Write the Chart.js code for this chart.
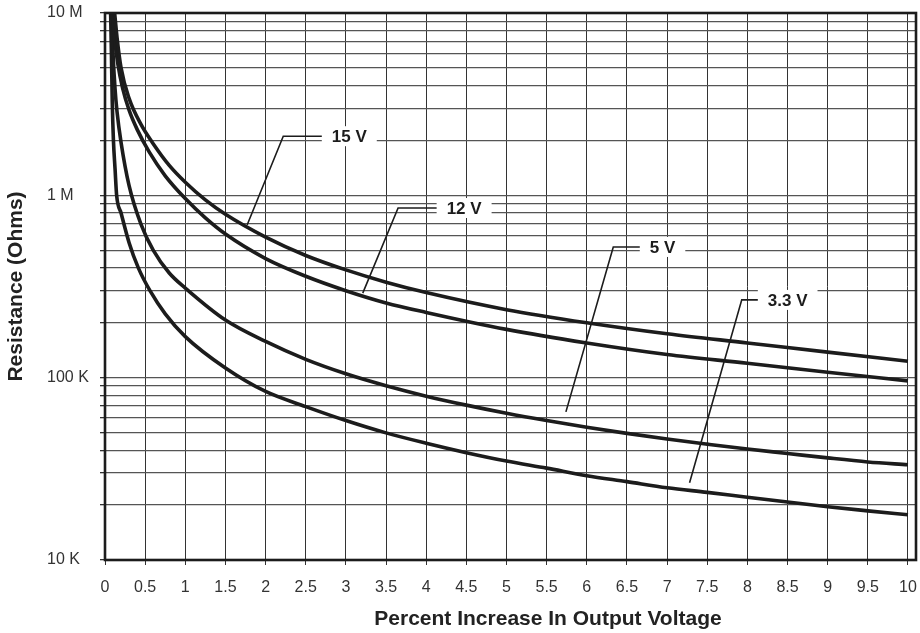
<!DOCTYPE html>
<html>
<head>
<meta charset="utf-8">
<script src="https://cdn.jsdelivr.net/npm/chart.js@4/dist/chart.umd.min.js"></script>
<style>
  html, body { margin: 0; padding: 0; background: #fff; }
  #wrap { width: 920px; height: 633px; }
</style>
</head>
<body>
<div id="wrap"><canvas id="chart" width="920" height="633"></canvas></div>
<script>
// ── Data ────────────────────────────────────────────────────────────────────

const SERIES_NAMES = ["15 V", "12 V", "5 V", "3.3 V"];

const x15 = [0.12, 0.15, 0.2, 0.3, 0.45, 0.6, 0.8, 1.0, 1.25, 1.5, 2, 2.5, 3, 3.5, 4, 5, 6, 7, 8, 9, 10];
const r15 = [10e6, 7.33e6, 5.0e6, 3.4e6, 2.44e6, 1.92e6, 1.46e6, 1.18e6, 0.944e6, 0.787e6, 0.59e6, 0.468e6, 0.39e6, 0.334e6, 0.293e6, 0.236e6, 0.2e6, 0.174e6, 0.155e6, 0.138e6, 0.123e6];

const x12 = [0.09, 0.12, 0.16, 0.22, 0.3, 0.4, 0.55, 0.75, 1.0, 1.25, 1.5, 2, 2.5, 3, 3.5, 4, 5, 6, 7, 8, 9, 10];
const r12 = [10e6, 7.17e6, 5.25e6, 3.86e6, 2.93e6, 2.3e6, 1.73e6, 1.28e6, 0.96e6, 0.752e6, 0.613e6, 0.45e6, 0.36e6, 0.3e6, 0.257e6, 0.228e6, 0.184e6, 0.155e6, 0.134e6, 0.12e6, 0.107e6, 0.096e6];

const x5 = [0.08, 0.1, 0.125, 0.15, 0.2, 0.3, 0.45, 0.6, 0.8, 1.0, 1.5, 2, 2.5, 3, 3.5, 4, 4.5, 5, 5.5, 6, 6.5, 7, 7.5, 8, 8.5, 9, 9.5, 10];
const r5 = [10e6, 6e6, 3.84e6, 2.87e6, 1.95e6, 1.13e6, 0.69e6, 0.5e6, 0.375e6, 0.31e6, 0.207e6, 0.158e6, 0.126e6, 0.105e6, 90.3e3, 79.2e3, 70.7e3, 63.8e3, 58.2e3, 53.5e3, 49.5e3, 46.1e3, 43.2e3, 40.6e3, 38.4e3, 36.3e3, 34.5e3, 33.3e3];

const x33 = [0.07, 0.08, 0.09, 0.105, 0.125, 0.145, 0.2, 0.3, 0.415, 0.56, 0.75, 1.0, 1.5, 2.0, 2.5, 3.0, 3.5, 4.0, 4.5, 5.0, 5.5, 6.0, 6.5, 7.0, 7.5, 8.0, 8.5, 9.0, 9.5, 10];
const r33 = [10e6, 6e6, 3.3e6, 2.0e6, 1.4e6, 1.0e6, 0.8e6, 0.55e6, 0.4e6, 0.3e6, 0.224e6, 0.168e6, 0.113e6, 84e3, 69.4e3, 58.2e3, 49.8e3, 43.7e3, 38.8e3, 34.9e3, 31.9e3, 29.0e3, 26.9e3, 24.9e3, 23.5e3, 22.1e3, 20.8e3, 19.6e3, 18.6e3, 17.7e3];

const X_TICKS = [0, 0.5, 1, 1.5, 2, 2.5, 3, 3.5, 4, 4.5, 5, 5.5, 6, 6.5, 7, 7.5, 8, 8.5, 9, 9.5, 10];
const Y_GRID = [
    1e4, 2e4, 3e4, 4e4, 5e4, 6e4, 7e4, 8e4, 9e4,
    1e5, 2e5, 3e5, 4e5, 5e5, 6e5, 7e5, 8e5, 9e5,
    1e6, 2e6, 3e6, 4e6, 5e6, 6e6, 7e6, 8e6, 9e6,
    1e7,
];
const Y_LABEL_VALUES = [1e4, 1e5, 1e6, 1e7];
const Y_LABELS = ["10 K", "100 K", "1 M", "10 M"];

const X_TITLE = "Percent Increase In Output Voltage";
const Y_TITLE = "Resistance (Ohms)";

// callout leaders: curve point -> corner -> horizontal run, then the label
const CALLOUTS = [
    { text: "15 V", tip: [1.77, 0.688e6], corner: [2.22, 2.11e6], end: 2.70 },
    { text: "12 V", tip: [3.21, 0.291e6], corner: [3.65, 0.852e6], end: 4.13 },
    { text: "5 V", tip: [5.74, 64.9e3], corner: [6.33, 0.521e6], end: 6.66 },
    { text: "3.3 V", tip: [7.28, 26.5e3], corner: [7.93, 0.267e6], end: 8.13 },
];

// ── Helpers ─────────────────────────────────────────────────────────────────

const FONT = "'Liberation Sans', Arial, Helvetica, sans-serif";
const INK = "#1c1c1c";

function toPoints(xs, ys) {
    return xs.map((x, i) => ({ x, y: ys[i] }));
}

function curve(label, xs, ys) {
    return {
        label,
        data: toPoints(xs, ys),
        borderColor: INK,
        borderWidth: 3.6,
        pointRadius: 0,
        fill: false,
        cubicInterpolationMode: "monotone",
    };
}

const calloutPlugin = {
    id: "callouts",
    afterDatasetsDraw(chart) {
        const { ctx, scales: { x, y } } = chart;
        ctx.save();
        ctx.font = `bold 17px ${FONT}`;
        for (const c of CALLOUTS) {
            const tx = x.getPixelForValue(c.tip[0]);
            const ty = y.getPixelForValue(c.tip[1]);
            const cx = x.getPixelForValue(c.corner[0]);
            const cy = y.getPixelForValue(c.corner[1]);
            const ex = x.getPixelForValue(c.end);
            const w = ctx.measureText(c.text).width;

            // white patch behind the label
            ctx.fillStyle = "#fff";
            ctx.fillRect(ex, cy - 10, w + 20, 20);

            ctx.strokeStyle = INK;
            ctx.lineWidth = 1.6;
            ctx.beginPath();
            ctx.moveTo(tx, ty);
            ctx.lineTo(cx, cy);
            ctx.lineTo(ex, cy);
            ctx.stroke();

            ctx.fillStyle = INK;
            ctx.textAlign = "left";
            ctx.textBaseline = "middle";
            ctx.fillText(c.text, ex + 10, cy + 1);
        }
        ctx.restore();
    },
    afterDraw(chart) {
        const { ctx, chartArea: a } = chart;
        ctx.save();
        // heavy frame round the plot
        ctx.strokeStyle = INK;
        ctx.lineWidth = 2.6;
        ctx.strokeRect(a.left, a.top, a.right - a.left, a.bottom - a.top);

        // x title sits a little right of the plot centre in the original
        ctx.fillStyle = "#222";
        ctx.font = `bold 21px ${FONT}`;
        ctx.textAlign = "center";
        ctx.textBaseline = "middle";
        ctx.fillText(X_TITLE, 548, 619);
        ctx.restore();
    },
};

// ── Chart ───────────────────────────────────────────────────────────────────

new Chart(document.getElementById("chart"), {
    type: "line",
    data: {
        datasets: [
            curve(SERIES_NAMES[0], x15, r15),
            curve(SERIES_NAMES[1], x12, r12),
            curve(SERIES_NAMES[2], x5, r5),
            curve(SERIES_NAMES[3], x33, r33),
        ],
    },
    options: {
        responsive: false,
        animation: false,
        layout: { padding: { left: 47, right: 4, top: 13, bottom: 0 } },
        plugins: {
            legend: { display: false },
            tooltip: { enabled: false },
        },
        scales: {
            x: {
                type: "linear",
                min: 0,
                max: 10.1,
                afterBuildTicks(scale) {
                    scale.ticks = X_TICKS.map((v) => ({ value: v }));
                },
                afterFit(scale) {
                    scale.height = 73;
                    scale.paddingLeft = 0;
                    scale.paddingRight = 0;
                },
                grid: {
                    color: "#333",
                    lineWidth: 1,
                    tickLength: 5,
                    tickColor: "#333",
                },
                border: { display: false },
                ticks: {
                    autoSkip: false,
                    maxRotation: 0,
                    padding: 13,
                    color: "#333",
                    font: { family: FONT, size: 16 },
                    callback: (v) => String(v),
                },
                title: { display: false },
            },
            y: {
                type: "logarithmic",
                min: 1e4,
                max: 1e7,
                afterBuildTicks(scale) {
                    scale.ticks = Y_GRID.map((v) => ({ value: v }));
                },
                afterFit(scale) {
                    scale.width = 58;
                    scale.paddingTop = 0;
                    scale.paddingBottom = 0;
                },
                grid: {
                    color: "#555",
                    lineWidth: 1.3,
                    tickLength: 5,
                    tickColor: "#333",
                },
                border: { display: false },
                ticks: {
                    autoSkip: false,
                    crossAlign: "far",
                    color: "#333",
                    font: { family: FONT, size: 16 },
                    callback(v) {
                        const i = Y_LABEL_VALUES.indexOf(v);
                        return i >= 0 ? Y_LABELS[i] : "";
                    },
                },
                title: {
                    display: true,
                    text: Y_TITLE,
                    color: "#222",
                    font: { family: FONT, size: 21, weight: "bold" },
                    padding: { top: -43, bottom: 0 },
                },
            },
        },
    },
    plugins: [calloutPlugin],
});
</script>
</body>
</html>
